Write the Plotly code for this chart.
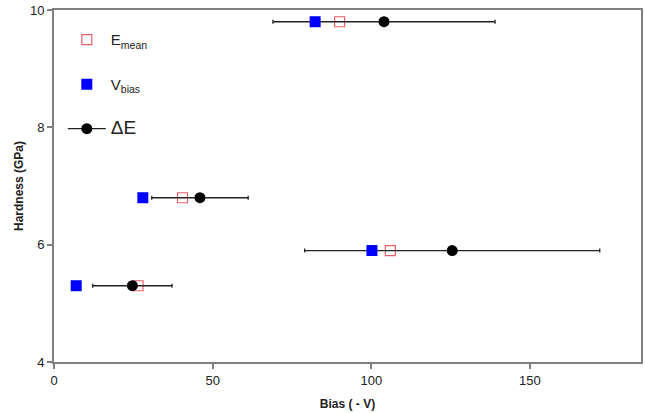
import plotly.graph_objects as go

# Hardness of each coating (GPa)
hardness = [9.8, 6.8, 5.9, 5.3]
# Mean ion energy, applied bias and energy-spread centre (all in -V)
e_mean = [90.0, 40.5, 106.0, 26.5]
v_bias = [82.3, 28.0, 100.2, 7.0]
delta_e = [104.0, 46.0, 125.5, 24.7]
delta_e_err = [35.0, 15.2, 46.5, 12.5]

fig = go.Figure()

fig.add_trace(go.Scatter(
    x=e_mean, y=hardness, mode="markers", name="E<sub>mean</sub>",
    legendrank=1, legendgroup="a",
    marker=dict(symbol="square-open", size=10, color="#e8606a", line=dict(width=1.2)),
))
fig.add_trace(go.Scatter(
    x=delta_e, y=hardness, mode="markers", showlegend=False,
    error_x=dict(type="data", array=delta_e_err, color="#222222", thickness=1.3, width=2),
    marker=dict(symbol="circle", size=11, color="black"),
))
fig.add_trace(go.Scatter(
    x=v_bias, y=hardness, mode="markers", name="V<sub>bias</sub>",
    legendrank=2, legendgroup="b",
    marker=dict(symbol="square", size=11, color="#0000ff"),
))
# legend entry for the energy spread: line with a dot
fig.add_trace(go.Scatter(
    x=[None], y=[None], mode="lines+markers",
    name="<span style='font-size:19px'>ΔE</span>",
    legendrank=3, legendgroup="c",
    line=dict(color="#222222", width=1.3),
    marker=dict(symbol="circle", size=11, color="black"),
))

axis_common = dict(
    showline=True, linecolor="#808080", linewidth=2, mirror=True,
    ticks="outside", tickcolor="#808080", ticklen=5, tickwidth=1.5,
    showgrid=False, zeroline=False,
    tickfont=dict(family="Liberation Sans, Arial", size=13, color="#222222"),
)

fig.update_layout(
    width=645, height=413,
    margin=dict(l=54, r=2, t=10, b=51),
    paper_bgcolor="white", plot_bgcolor="white",
    showlegend=True,
    legend=dict(
        x=0.015, y=0.962, xanchor="left", yanchor="top",
        bgcolor="rgba(0,0,0,0)", traceorder="grouped", tracegroupgap=22,
        itemwidth=38,
        font=dict(family="Liberation Sans, Arial", size=15, color="#222222"),
    ),
    xaxis=dict(
        range=[0, 185], tickvals=[0, 50, 100, 150],
        title=dict(text="<b>Bias ( - V)</b>", standoff=13,
                   font=dict(family="Liberation Sans, Arial", size=12, color="#222222")),
        **axis_common,
    ),
    yaxis=dict(
        range=[4, 10], tickvals=[4, 6, 8, 10],
        title=dict(text="<b>Hardness (GPa)</b>", standoff=4,
                   font=dict(family="Liberation Sans, Arial", size=12, color="#222222")),
        **axis_common,
    ),
)

fig.write_html("out.html")
